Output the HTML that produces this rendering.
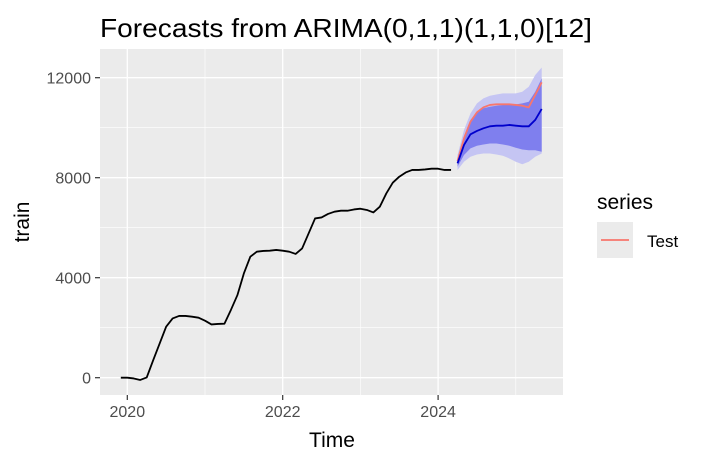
<!DOCTYPE html>
<html><head><meta charset="utf-8"><style>
body{margin:0;background:#fff;font-family:"Liberation Sans",sans-serif}
</style></head><body>
<svg id="c" width="704" height="465" xmlns="http://www.w3.org/2000/svg">
<rect width="704" height="465" fill="#fff"/>
<text x="100" y="37" font-size="26" textLength="492" lengthAdjust="spacingAndGlyphs" fill="#000">Forecasts from ARIMA(0,1,1)(1,1,0)[12]</text>
<rect x="100" y="49" width="463" height="346" fill="#ebebeb"/>
<g id="grid"></g>
<g id="marks"></g>
<g id="axes"></g>
<text x="332" y="447" font-size="21" text-anchor="middle">Time</text>
<text transform="translate(29,222) rotate(-90)" font-size="21" text-anchor="middle">train</text>
<g>
<text x="597" y="209" font-size="21">series</text>
<rect x="597" y="222" width="36" height="36" fill="#ebebeb"/>
<line x1="601" y1="240" x2="629" y2="240" stroke="#f8766d" stroke-width="1.8"/>
<text x="647" y="247" font-size="17">Test</text>
</g>
</svg>
<script>
const trainStart = 2019 + 11/12;
const trainValues = [0,0,-30,-90,10,700,1370,2040,2370,2470,2470,2440,2400,2280,2130,2150,2160,2710,3300,4170,4840,5040,5070,5080,5110,5080,5040,4950,5170,5770,6370,6410,6550,6640,6680,6680,6730,6760,6710,6610,6840,7370,7800,8040,8210,8310,8310,8330,8360,8360,8310,8310];
const fcStart = 2024 + 3/12;
const fcMean = [8575,9310,9735,9870,9975,10055,10080,10080,10110,10080,10055,10055,10310,10750];
const testValues = [8670,9575,10240,10615,10815,10910,10935,10935,10935,10910,10880,10815,11310,11815];
const lo80 = [8440,8910,9175,9280,9330,9370,9370,9330,9280,9200,9130,9100,9100,9040];
const hi80 = [8750,9640,10310,10640,10780,10840,10880,10910,10935,10935,10975,11040,11440,11975];
const lo95 = [8310,8640,8840,8930,8970,8970,8930,8880,8770,8640,8540,8640,8840,8970];
const hi95 = [8910,9910,10575,10975,11175,11280,11330,11375,11375,11375,11440,11640,12110,12410];
const xTicks = [2020,2022,2024];
const xMinor = [2021,2023,2025];
const yTicks = [0,4000,8000,12000];
const yMinor = [2000,6000,10000];

const X = t => 127.3 + (t-2020)*77.7;
const Y = v => 377.7 - v*0.025;
const NS="http://www.w3.org/2000/svg";
function mk(parent,tag,attrs){const e=document.createElementNS(NS,tag);for(const k in attrs)e.setAttribute(k,attrs[k]);parent.appendChild(e);return e;}
const grid=document.getElementById('grid'), marks=document.getElementById('marks'), axes=document.getElementById('axes');
yMinor.forEach(v=>{const l=mk(grid,'line',{x1:100,x2:563,y1:Y(v),y2:Y(v),stroke:'#fff','stroke-width':0.6});

});
xMinor.forEach(t=>{const l=mk(grid,'line',{x1:X(t),x2:X(t),y1:49,y2:395,stroke:'#fff','stroke-width':0.6});

});
yTicks.forEach(v=>{const l=mk(grid,'line',{x1:100,x2:563,y1:Y(v),y2:Y(v),stroke:'#fff','stroke-width':1.3});


const tk=mk(axes,'line',{x1:95,x2:100,y1:Y(v),y2:Y(v),stroke:'#333','stroke-width':1.2});


const tx=mk(axes,'text',{x:91,y:Y(v)+6,'font-size':16,'text-anchor':'end',fill:'#4d4d4d'});tx.textContent=v;

});
xTicks.forEach(t=>{const l=mk(grid,'line',{x1:X(t),x2:X(t),y1:49,y2:395,stroke:'#fff','stroke-width':1.3});


const tk=mk(axes,'line',{x1:X(t),x2:X(t),y1:395,y2:400,stroke:'#333','stroke-width':1.2});


const tx=mk(axes,'text',{x:X(t),y:417,'font-size':16,'text-anchor':'middle',fill:'#4d4d4d'});tx.textContent=t;

});
function band(lo,hi,fill,name){let pts=[];hi.forEach((v,i)=>pts.push(X(fcStart+i/12)+','+Y(v)));
for(let i=lo.length-1;i>=0;i--)pts.push(X(fcStart+i/12)+','+Y(lo[i]));
const p=mk(marks,'polygon',{points:pts.join(' '),fill:fill});

}
band(lo95,hi95,'#c5c5f3','band-95');
band(lo80,hi80,'#7f7fee','band-80');
function line(vals,start,color,w,name){const pts=vals.map((v,i)=>X(start+i/12)+','+Y(v)).join(' ');
const p=mk(marks,'polyline',{points:pts,fill:'none',stroke:color,'stroke-width':w,'stroke-linejoin':'round'});

}
line(trainValues,trainStart,'#000',1.8,'train-line');
line(testValues,fcStart,'#f8766d',1.8,'test-line');
line(fcMean,fcStart,'#0000cc',1.8,'forecast-mean-line');
</script>
</body></html>
